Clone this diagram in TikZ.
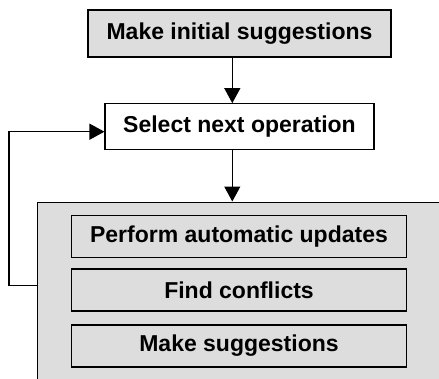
\documentclass[tikz,border=0pt]{standalone}
\usepackage{fontspec}
\setmainfont{Liberation Sans}
\usetikzlibrary{arrows.meta,positioning,calc}
\definecolor{stepgray}{RGB}{221,221,221}

\begin{document}
\begin{tikzpicture}[x=1pt, y=-1pt,
    box/.style={draw, line width=1.1pt, inner sep=0pt, font=\fontsize{23}{27}\selectfont\bfseries},
    arr/.style={line width=1.1pt, -{Triangle[length=15pt,width=16pt]}}]
    \useasboundingbox (0,0) rectangle (439,378);
    \clip (0,0) rectangle (439,378);
    \node[box, fill=stepgray, minimum width=303pt, minimum height=47pt] (init) at (239.5,33.5) {Make initial suggestions};
    \node[box, fill=white, minimum width=269pt, minimum height=46pt] (select) at (239.5,126.7) {Select next operation};
    % grey block, runs past the page edge
    \node[box, fill=stepgray, anchor=north west, minimum width=430pt, minimum height=200pt] (stage) at (36.5,201.5) {};
    \node[box, fill=stepgray, minimum width=335pt, minimum height=42pt] (update) at (239,236.5) {Perform automatic updates};
    \node[box, fill=stepgray, minimum width=335pt, minimum height=42pt] (conflict) at (239,290) {Find conflicts};
    \node[box, fill=stepgray, minimum width=335pt, minimum height=42pt] (suggest) at (239,346) {Make suggestions};
    \coordinate (axis) at (232.3,0);
    \coordinate (loopin) at (36.5,285.7);
    \draw[arr] (init.south -| axis) -- (select.north -| axis);
    \draw[arr] (select.south -| axis) -- (stage.north -| axis);
    \draw[arr] (loopin) -- ++(-27.5,0) |- ([yshift=-5pt]select.west);
\end{tikzpicture}
\end{document}
